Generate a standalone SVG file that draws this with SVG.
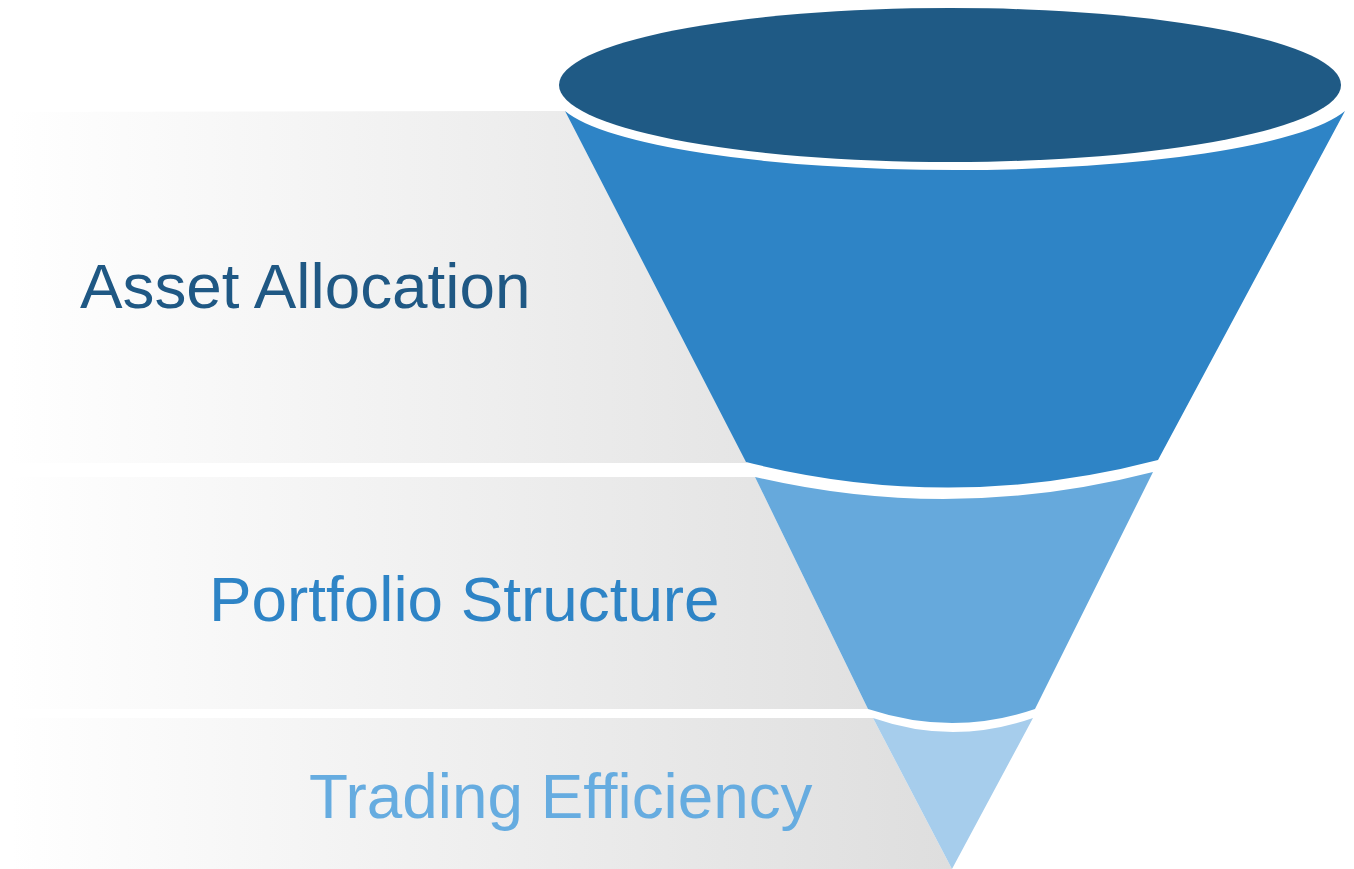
<svg xmlns="http://www.w3.org/2000/svg" width="1354" height="869" viewBox="0 0 1354 869">
  <defs>
    <linearGradient id="bandGrad" gradientUnits="userSpaceOnUse" x1="10" y1="0" x2="950" y2="0">
      <stop offset="0" stop-color="#FFFFFF"/>
      <stop offset="1" stop-color="#DEDEDE"/>
    </linearGradient>
  </defs>
  <style>
    .band { fill: url(#bandGrad); }
    .label { font-family: "Liberation Sans", Arial, sans-serif; font-size: 63.8px; }
  </style>
  <rect x="0" y="0" width="1354" height="869" fill="#FFFFFF"/>

  <g id="tier-asset-allocation">
    <path class="band" d="M10,112 L565,111 L747,463 L10,463 Z"/>
    <path d="M565,111 A400,76 0 0 0 1345,111 L1158,460 Q952,514 746,462 Z" fill="#2E84C6"/>
    <ellipse cx="950" cy="85" rx="391" ry="77" fill="#1F5A85"/>
    <text class="label" x="80" y="308" fill="#1F5884">Asset Allocation</text>
  </g>

  <g id="tier-portfolio-structure">
    <path class="band" d="M10,477 L755,477 L868,709 L10,709 Z"/>
    <path d="M755,477 Q953,523.5 1153,472 L1035,709 Q953,737 868,709 Z" fill="#66A9DC"/>
    <text class="label" x="209" y="621" fill="#2E84C6">Portfolio Structure</text>
  </g>

  <g id="tier-trading-efficiency">
    <path class="band" d="M14,718 L873,718 L952,869 L14,869 Z"/>
    <path d="M873,718 Q953,746 1033,718 L952,869 Z" fill="#A6CDEC"/>
    <text class="label" x="309" y="818" fill="#66ACE0">Trading Efficiency</text>
  </g>
</svg>
